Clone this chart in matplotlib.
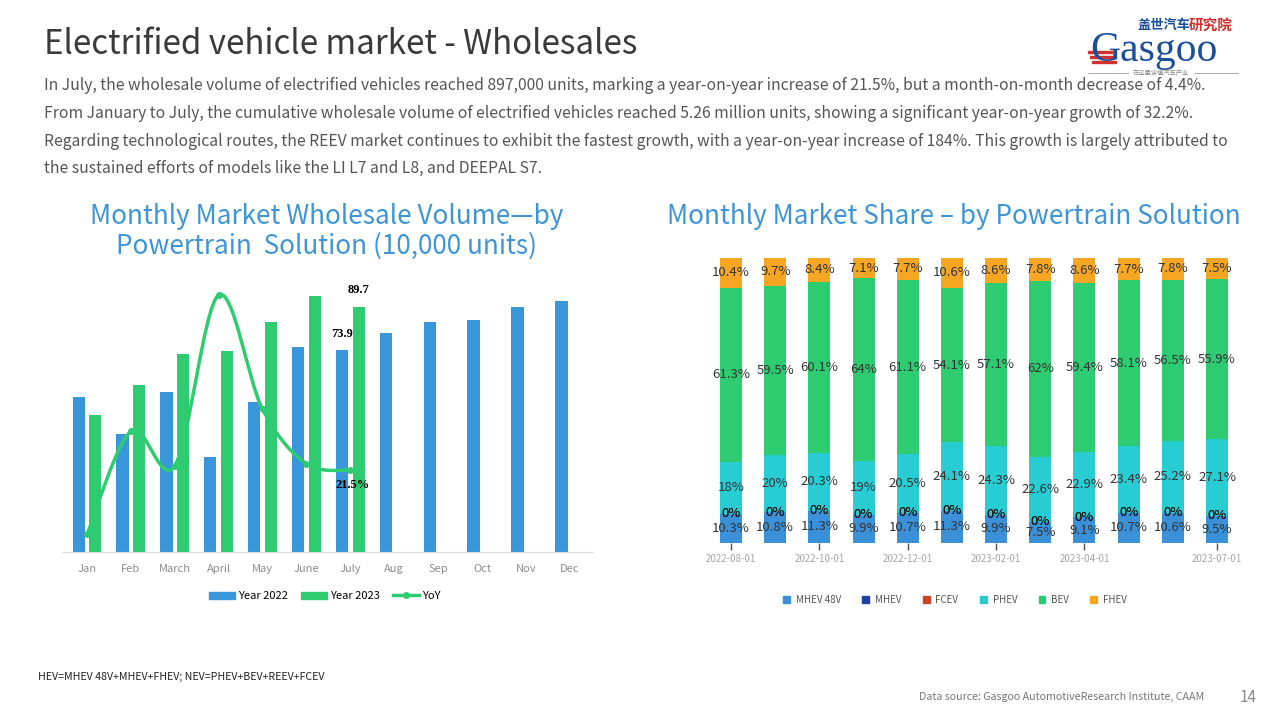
import numpy as np
import matplotlib
matplotlib.use("Agg")
import matplotlib.pyplot as plt
from matplotlib.path import Path
from matplotlib.patches import PathPatch, Patch, Rectangle
from matplotlib.lines import Line2D

plt.rcParams['font.family'] = ['Noto Sans CJK SC', 'DejaVu Sans']

# ---- data ----
months = ['Jan', 'Feb', 'March', 'April', 'May', 'June', 'July', 'Aug', 'Sep', 'Oct', 'Nov', 'Dec']
wholesale_2022 = [56.8, 43.2, 58.6, 34.8, 55.0, 75.2, 73.9, 80.3, 84.3, 85.1, 89.8, 92.0]
wholesale_2023 = [50.2, 61.2, 72.6, 73.7, 84.3, 93.9, 89.7]
yoy = [-11.6, 41.7, 23.9, 112.0, 53.0, 24.9, 21.5]

share_dates = ['2022-08-01', '2022-09-01', '2022-10-01', '2022-11-01', '2022-12-01', '2023-01-01',
               '2023-02-01', '2023-03-01', '2023-04-01', '2023-05-01', '2023-06-01', '2023-07-01']
share_ticks = ['2022-08-01', '2022-10-01', '2022-12-01', '2023-02-01', '2023-04-01', '2023-07-01']
share_series = ['MHEV 48V', 'MHEV', 'FCEV', 'PHEV', 'BEV', 'FHEV']
mhev48v = [10.3, 10.8, 11.3, 9.9, 10.7, 11.3, 9.9, 7.5, 9.1, 10.7, 10.6, 9.5]
mhev = [0, 0, 0, 0, 0, 0, 0, 0, 0, 0, 0, 0]
fcev = [0, 0, 0, 0, 0, 0, 0, 0, 0, 0, 0, 0]
phev = [18, 20, 20.3, 19, 20.5, 24.1, 24.3, 22.6, 22.9, 23.4, 25.2, 27.1]
bev = [61.3, 59.5, 60.1, 64, 61.1, 54.1, 57.1, 62, 59.4, 58.1, 56.5, 55.9]
fhev = [10.4, 9.7, 8.4, 7.1, 7.7, 10.6, 8.6, 7.8, 8.6, 7.7, 7.8, 7.5]

BLUE = '#3a96db'
GREEN = '#2ecc71'
share_colors = ['#3a91d9', '#1f3f9e', '#c9442a', '#27cdd3', '#2ecc71', '#f6a623']

W, H = 1280, 720


def fx(x):
    return x / W


def fy(y):
    return 1 - y / H


fig = plt.figure(figsize=(12.8, 7.2), dpi=100)

# ---- header texts ----
fig.text(fx(44), fy(44), 'Electrified vehicle market - Wholesales', fontsize=23.8,
         color='#3a3a3a', va='center', ha='left')
para = [
    'In July, the wholesale volume of electrified vehicles reached 897,000 units, marking a year-on-year increase of 21.5%, but a month-on-month decrease of 4.4%.',
    'From January to July, the cumulative wholesale volume of electrified vehicles reached 5.26 million units, showing a significant year-on-year growth of 32.2%.',
    'Regarding technological routes, the REEV market continues to exhibit the fastest growth, with a year-on-year increase of 184%. This growth is largely attributed to',
    'the sustained efforts of models like the LI L7 and L8, and DEEPAL S7.',
]
for i, line in enumerate(para):
    fig.text(fx(44), fy(86 + i * 27.5), line, fontsize=11.3, color='#555555', va='center', ha='left')

# logo
fig.text(fx(1137), fy(25), '盖世汽车', fontsize=9.5, color='#1b4f9c', weight='bold', va='center', ha='left')
fig.text(fx(1233), fy(25), '研究院', fontsize=10.5, color='#d0312d', weight='bold', va='center', ha='right')
fig.text(fx(1090), fy(51), 'Gasgoo', fontsize=30, color='#1b4f9c', family='Liberation Serif',
         va='center', ha='left')
for k in range(3):
    fig.add_artist(Rectangle((fx(1088 + k * 2), fy(53 + k * 5)), 24 / W, 2.5 / H,
                             transform=fig.transFigure, color='#d0312d'))
fig.add_artist(Line2D([fx(1088), fx(1128)], [fy(73), fy(73)], transform=fig.transFigure,
                      color='#999999', lw=0.6))
fig.add_artist(Line2D([fx(1194), fx(1238)], [fy(73), fy(73)], transform=fig.transFigure,
                      color='#999999', lw=0.6))
fig.text(fx(1161), fy(73), '在这里读懂汽车产业', fontsize=4.5, color='#888888', va='center', ha='center')

# ---- left chart ----
fig.text(fx(327), fy(217), 'Monthly Market Wholesale Volume—by', fontsize=18.8, color='#3d95d7',
         va='center', ha='center')
fig.text(fx(327), fy(246), 'Powertrain  Solution (10,000 units)', fontsize=18.8, color='#3d95d7',
         va='center', ha='center')

ax = fig.add_axes([fx(62), fy(551.7), 531 / W, 272.7 / H])
x = np.arange(len(months))
x23 = np.arange(len(wholesale_2023))
ax.bar(x - 0.19, wholesale_2022, width=0.28, color=BLUE, zorder=2)
ax.bar(x23 + 0.19, wholesale_2023, width=0.28, color=GREEN, zorder=2)
ax.set_xlim(-0.57, 11.53)
ax.set_ylim(0, 100)
for s in ['top', 'right', 'left']:
    ax.spines[s].set_visible(False)
ax.spines['bottom'].set_color('#d9d9d9')
ax.set_yticks([])
ax.set_xticks(x, months)
ax.tick_params(axis='x', length=0, pad=9, labelsize=8, labelcolor='#8c8c8c')

ax.annotate('73.9', (6 - 0.19, wholesale_2022[6]), xytext=(0, 7), textcoords='offset points',
            ha='center', va='bottom', fontsize=9, weight='bold', family='Liberation Serif', zorder=5)
ax.annotate('89.7', (6 + 0.19, wholesale_2023[6]), xytext=(0, 8), textcoords='offset points',
            ha='center', va='bottom', fontsize=9, weight='bold', family='Liberation Serif', zorder=5)

ax2 = ax.twinx()
ax2.set_ylim(-20.5, 120.3)
ax2.set_yticks([])
for s in ax2.spines.values():
    s.set_visible(False)

# smooth YoY curve (Catmull-Rom as cubic Bezier)
pts = np.column_stack([x23, yoy]).astype(float)
verts = [pts[0]]
codes = [Path.MOVETO]
n = len(pts)
for i in range(n - 1):
    p0 = pts[i - 1] if i > 0 else pts[i]
    p1 = pts[i]
    p2 = pts[i + 1]
    p3 = pts[i + 2] if i + 2 < n else pts[i + 1]
    c1 = p1 + (p2 - p0) / 6
    c2 = p2 - (p3 - p1) / 6
    verts += [c1, c2, p2]
    codes += [Path.CURVE4] * 3
ax2.add_patch(PathPatch(Path(verts, codes), facecolor='none', edgecolor=GREEN, lw=2.5, zorder=4))
ax2.plot(x23, yoy, 'o', color=GREEN, ms=4, zorder=5)
ax2.annotate('21.5%', (6, yoy[6]), xytext=(2, -6), textcoords='offset points',
             ha='center', va='top', fontsize=9, weight='bold', family='Liberation Serif', zorder=6)

fig.legend(handles=[Patch(color=BLUE, label='Year 2022'), Patch(color=GREEN, label='Year 2023'),
                    Line2D([], [], color=GREEN, lw=2.5, marker='o', ms=4, label='YoY')],
           loc='center', bbox_to_anchor=(fx(325), fy(596)), ncol=3, frameon=False,
           fontsize=8, handlelength=2.3, handleheight=0.6, columnspacing=1.2, handletextpad=0.3)

# ---- right chart ----
fig.text(fx(954), fy(217), 'Monthly Market Share – by Powertrain Solution', fontsize=18.8,
         color='#3d95d7', va='center', ha='center')

axr = fig.add_axes([fx(704.5), fy(543), 539 / W, 285 / H])
xr = np.arange(len(share_dates))
bottom = np.zeros(len(share_dates))
for name, vals, col in zip(share_series, [mhev48v, mhev, fcev, phev, bev, fhev], share_colors):
    vals = np.array(vals, dtype=float)
    axr.bar(xr, vals, width=0.5, bottom=bottom, color=col, label=name, zorder=2)
    for xi, b, v in zip(xr, bottom, vals):
        axr.text(xi, b + v / 2, f'{v:g}%', ha='center', va='center', fontsize=9.5,
                 color='#1a1a1a' if v == 0 else '#333333', zorder=5)
    bottom += vals
axr.set_xlim(-0.6, 11.6)
axr.set_ylim(0, 100)
for s in axr.spines.values():
    s.set_visible(False)
axr.set_yticks([])
axr.set_xticks([share_dates.index(t) for t in share_ticks], share_ticks)
axr.tick_params(axis='x', length=5, width=1, color='#555555', pad=3, labelsize=7, labelcolor='#a6a6a6')

fig.legend(handles=[Patch(color=c, label=nm) for nm, c in zip(share_series, share_colors)],
           loc='center', bbox_to_anchor=(fx(955), fy(600)), ncol=6, frameon=False,
           fontsize=7, handlelength=0.7, handleheight=0.7, columnspacing=2.2, handletextpad=0.6,
           labelcolor='#555555')

# ---- footer ----
fig.text(fx(38), fy(677), 'HEV=MHEV 48V+MHEV+FHEV; NEV=PHEV+BEV+REEV+FCEV', fontsize=7.6,
         color='#222222', va='center', ha='left')
fig.text(fx(1204), fy(697), 'Data source: Gasgoo AutomotiveResearch Institute, CAAM', fontsize=7.7,
         color='#777777', style='italic', va='center', ha='right')
fig.text(fx(1248), fy(697), '14', fontsize=11, color='#888888', va='center', ha='center')

fig.savefig('out.png', dpi=100)
